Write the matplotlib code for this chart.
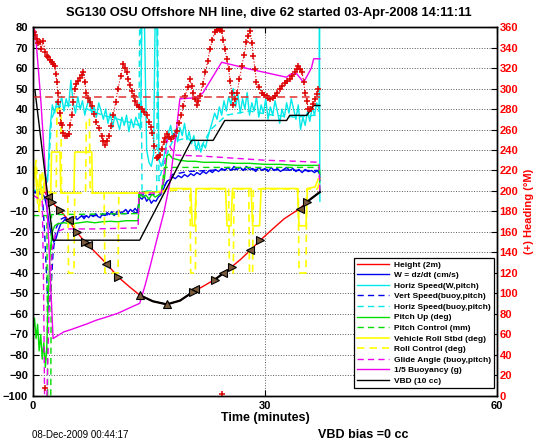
#!/usr/bin/env python3

import numpy as np
import matplotlib.pyplot as plt

plt.rcParams['font.family'] = ['Liberation Sans', 'DejaVu Sans']
plt.rcParams['font.weight'] = 'bold'

# ---- data (time in minutes) ----
# Height (2m), red line
t_height = [0.3, 1.5, 1.98, 2.4, 3.5, 4.6, 5.65, 6.7, 7.15, 9.5, 11.0, 12.5, 13.8, 15.5, 17.3,
            19.0, 20.7, 22.0, 23.5, 24.6, 25.7, 26.9, 28.1, 29.4, 31.0, 32.5, 34.5, 35.4, 36.3, 37.1]
height = [0, -0.5, -2.9, -5.4, -9.4, -14.3, -20, -24.8, -26.4, -35.4, -41.9, -46.8, -50.8, -53.8, -55.3,
          -53.5, -49.2, -46.5, -43.2, -40.2, -37, -33.2, -28.9, -24, -18.5, -13.5, -8.6, -5.4, -2.8, -0.5]
# black overlay pieces on the height trace
t_blk1 = [13.8, 15.5, 17.3, 19.0, 20.7, 21.2]
blk1 = [-50.8, -53.8, -55.3, -53.5, -49.2, -47.5]
t_blk2 = [23.3, 24.6, 25.1]
blk2 = [-43.8, -40.2, -39]
t_blk3 = [35.4, 36.3, 37.1]
blk3 = [-5.4, -2.8, -0.5]
# triangle markers on the height trace
t_tri_l = [1.98, 4.6, 7.15, 9.5, 21.0, 24.6, 28.1, 34.5]
tri_l = [-2.9, -14.3, -26.4, -35.4, -48, -40.2, -28.9, -8.6]
t_tri_r = [2.4, 3.5, 5.65, 6.7, 11.0, 20.7, 23.5, 25.7, 29.4, 35.4]
tri_r = [-5.4, -9.4, -20, -24.8, -41.9, -49.2, -43.2, -37, -24, -5.4]
t_tri_u = [13.8, 17.3]
tri_u = [-50.8, -55.3]

# W = dz/dt (cm/s)
t_w = [0, 0.3, 0.6, 0.9, 1.2, 1.5, 1.8, 2.1, 2.4, 2.7,
       3.0, 3.3, 3.6, 3.9, 4.2, 4.5, 4.8, 5.1, 5.4, 5.7,
       6.0, 6.3, 6.6, 6.9, 7.2, 7.5, 7.8, 8.1, 8.4, 8.7,
       9.0, 9.3, 9.6, 9.9, 10.2, 10.5, 10.8, 11.1, 11.4, 11.7,
       12.0, 12.3, 12.6, 12.9, 13.2, 13.5, 13.8, 14.1, 14.4, 14.7,
       15.0, 15.3, 15.6, 15.9, 16.2, 16.5, 16.8, 17.1, 17.4, 17.7,
       18.0, 18.4, 18.8, 19.2, 19.6, 20.0, 20.4, 20.8, 21.2, 21.6,
       22.0, 22.4, 22.8, 23.2, 23.6, 24.0, 24.4, 24.8, 25.2, 25.6,
       26.0, 26.4, 26.8, 27.2, 27.6, 28.0, 28.4, 28.8, 29.2, 29.6,
       30.0, 30.4, 30.8, 31.2, 31.6, 32.0, 32.4, 32.8, 33.2, 33.6,
       34.0, 34.4, 34.8, 35.2, 35.6, 36.0, 36.4, 36.8, 37.1]
w_speed = [0, -1, 0.5, -1.5, -1, -3, -8, -16, -22, -25,
           -23, -19, -16, -15, -13.5, -15, -13, -14.5, -12.5, -14,
           -13, -12, -13.5, -12, -13, -11.5, -12.5, -11, -12.5, -13,
           -11, -12, -10.5, -11.5, -10, -12, -10.5, -9.5, -11, -10,
           -9, -10.5, -9, -10, -8.5, -10, -3, -4, -2.5, -5,
           -3.5, -6, -4.5, -5, -3, -2, 0, 3, 5, 5.5,
           7, 6, 7.5, 6.5, 8, 7, 8.5, 7.5, 9, 8,
           9.5, 8.5, 10, 9, 10.5, 9.5, 11, 10, 11.5, 10,
           12, 10.5, 11.5, 10, 12, 10.5, 11, 9.5, 11.5, 10,
           11, 9.5, 11.5, 10, 11, 9.5, 10.5, 11.5, 10, 11,
           9.5, 10.5, 9, 10.5, 9.5, 10, 9, 10, 8]

# Horiz Speed(W,pitch)
t_hspd = [0, 1.0, 1.6, 1.9, 2.2, 2.5, 2.8, 3.1, 3.4, 3.7,
          4.0, 4.3, 4.6, 4.9, 5.2, 5.5, 5.8, 6.1, 6.4, 6.7,
          7.0, 7.3, 7.6, 7.9, 8.2, 8.5, 8.8, 9.1, 9.4, 9.7,
          10.0, 10.3, 10.6, 10.9, 11.2, 11.5, 11.8, 12.1, 12.4, 12.7,
          13.0, 13.3, 13.6, 13.9, 14.1, 14.4, 14.7, 15.0, 15.3, 15.6,
          15.8, 16.0, 16.3, 16.6, 16.9, 17.2, 17.5, 17.8, 18.1, 18.4,
          18.7, 19.0, 19.3, 19.6, 19.9, 20.2, 20.5, 20.8, 21.1, 21.4,
          21.7, 22.0, 22.3, 22.6, 22.9, 23.2, 23.5, 23.8, 24.1, 24.4,
          24.7, 25.0, 25.3, 25.6, 25.9, 26.2, 26.5, 26.8, 27.1, 27.4,
          27.7, 28.0, 28.3, 28.6, 28.9, 29.2, 29.5, 29.8, 30.1, 30.4,
          30.7, 31.0, 31.3, 31.6, 31.9, 32.2, 32.5, 32.8, 33.1, 33.4,
          33.7, 34.0, 34.3, 34.6, 34.9, 35.2, 35.5, 35.8, 36.1, 36.4,
          36.7, 37.0, 37.05, 37.1]
hspd = [0, 1, 3, 5, 30, 42, 38, 44, 40, 46,
        39, 45, 41, 54, 43, 38, 46, 40, 44, 37,
        42, 45, 38, 41, 36, 43, 39, 35, 40, 33,
        38, 31, 37, 34, 30, 36, 32, 37, 29, 35,
        31, 36, 33, 30, 85, 85, 20, 14, 12, 18,
        85, 85, 15, 12, 16, 22, 28, 32, 26, 30,
        24, 31, 27, 33, 25, 29, 23, 27, 20, 24,
        19, 23, 21, 26, 30, 34, 38, 35, 41, 37,
        44, 39, 46, 42, 50, 41, 47, 38, 45, 40,
        48, 37, 43, 39, 46, 36, 42, 38, 45, 35,
        41, 37, 44, 39, 33, 40, 36, 43, 38, 45,
        40, 35, 42, 30, 36, 32, 39, 34, 41, 37,
        43, 40, 85, -5]

# Vert Speed(buoy,pitch)
t_vspd_b = [0, 1.2, 1.5, 1.8, 2.0, 2.3, 2.6, 3.0, 3.5, 4, 6, 8, 10, 12, 13.6, 13.8,
            16.5, 17.2, 18, 20, 25, 30, 35, 37, 37.1]
vspd_b = [0, -1, -20, -45, -58, -50, -30, -18, -14, -13, -12.5, -12, -11.5, -11, -10.5, -2,
          -1.5, 4, 8, 9.5, 10.5, 10.5, 10, 10, 5]

# Horiz Speed(buoy,pitch)
t_hspd_b = [0, 1.5, 2.0, 2.4, 3, 5, 7, 9, 11, 13, 13.7, 13.8, 13.95, 14.1, 16.0, 16.1, 16.3,
            17, 18, 20, 21.5, 23, 25, 28, 31, 34, 36.5, 37.1]
hspd_b = [0, 1, 10, 35, 41, 42, 40, 37, 35, 33, 32, 85, 85, 0, 0, 85, 5,
          15, 24, 26, 20, 30, 37, 39, 37, 36, 37, 40]

# Pitch Up (deg)
t_pitch = [0, 0.2, 0.4, 0.6, 0.8, 1.0, 1.2, 1.4, 1.6, 1.8,
           2.0, 2.2, 2.5, 2.8, 3.2, 4, 5, 6, 7, 8,
           9, 10, 11, 12, 13, 13.6, 13.8, 14.2, 14.6, 15.0,
           15.4, 15.8, 16.2, 16.6, 17.0, 17.3, 17.6, 18.0, 18.5, 19,
           20, 21, 22, 24, 26, 28, 30, 32, 34, 36,
           37, 37.1]
pitch = [-68, -62, -72, -65, -78, -70, -82, -74, -86, -75,
         -50, -30, -20, -17, -16, -15.5, -16, -15.5, -15, -15.5,
         -15, -14.8, -15, -14.5, -14.5, -14.5, -1, -3, -2, -4,
         -1.5, -3, -2, -1, 6, 17, 18, 16, 15.5, 15,
         14.5, 14.5, 14, 14, 13.5, 13.5, 13, 13, 12.5, 12.5,
         12.5, 8]

# Pitch Control (mm)
t_pitch_ctl = [0, 1.8, 1.9, 2.3, 2.4, 3, 13.6, 13.7, 16.6, 17.0, 37.0, 37.1]
pitch_ctl = [-12, -12, -100, -100, -11.5, -11.5, -11, -0.5, -0.5, 11.5, 11.5, 0]

# Vehicle Roll Stbd (deg)
t_roll = [0, 0.3, 0.6, 0.9, 1.2, 1.5, 1.8, 2.3, 2.4, 3.5,
          3.6, 5.3, 5.4, 7.6, 7.7, 13.8, 16.8, 17.3, 20.4, 20.6,
          20.9, 21.1, 24.9, 25.1, 25.6, 25.8, 28.2, 28.4, 29.3, 29.5,
          34.2, 34.4, 35.3, 35.5, 36.5, 36.9, 37.1]
roll = [3, 12, -6, 8, -4, 6, 0, -1, 19, 19,
        -1, -1, 19, 19, -1, -1, -0.5, 1.2, 1.2, -17,
        -17, 1.2, 1.2, -17, -17, 1.2, 1.2, -17, -17, 1.2,
        1.2, -17, -17, 1.2, 2, 6, 6]

# Roll Control (deg)
t_roll_ctl = [0, 0.4, 0.8, 1.2, 1.6, 3.0, 3.1, 3.6, 3.7, 4.5,
              4.6, 5.3, 5.4, 6.8, 6.9, 7.3, 7.4, 9.2, 9.3, 11.0,
              11.1, 13.8, 20.3, 20.4, 21.0, 21.1, 25.3, 25.4, 25.9, 26.0,
              27.9, 28.0, 28.4, 28.5, 34.3, 34.4, 35.3, 35.4, 36.8, 37.1]
roll_ctl = [0, 15, -10, 10, -1, -1, 40, 40, -1, -1,
            -40, -40, -1, -1, 35, 35, -1, -1, -40, -40,
            -1, -1, 1, -40, -40, 1, 1, -40, -40, 1,
            1, -40, -40, 1, 1, -40, -40, 1, 1, 5]

# Glide Angle (buoy,pitch)
t_glide = [0, 1.2, 1.35, 1.5, 1.8, 2.1, 2.5, 3.0, 4, 8, 13.6, 13.7, 16.6, 17.0, 17.3,
           17.8, 18.5, 22, 26, 30, 34, 37, 37.1]
glide = [-2, -5, -40, -100, -100, -55, -28, -20, -18.5, -18.5, -18, -1, -1, 10, 25,
         21, 17.5, 17, 16, 15, 14.5, 14, 0]

# 1/5 Buoyancy (g)
t_buoy = [0, 0.3, 1.0, 1.6, 2.1, 2.6, 3.0, 4.0, 5.0, 6.1, 7.0, 8.2, 9.5, 11.0, 12.5,
          13.8, 14.5, 15.2, 16.0, 16.9, 17.7, 18.4, 19.0, 21.2, 22.0, 24.4, 28.0, 32.8,
          33.3, 34.1, 35.0, 36.0, 36.3, 37.1]
buoy = [80, 78, 45, 10, -30, -72, -71, -68.7, -67.5, -66, -64.8, -63, -61.5, -59.6, -57,
        -54.8, -46, -36, -24, -11, 4, 25, 45, 45.5, 48, 62.8, 59.5, 55.5,
        57, 57.2, 53, 60, 64.5, 64.5]

# VBD (10 cc)
t_vbd = [0.26, 2.6, 13.8, 20.5, 23.3, 24.8, 32.8, 33.2, 35.4, 36.3, 37.1]
vbd = [49, -24, -24, 24.7, 24.7, 34.4, 34.4, 36.9, 36.9, 41.7, 41.7]

# (+) Heading (deg M), right axis
t_hdg = [0.1, 0.26, 0.5, 0.7, 0.9, 1.1, 1.3, 1.6, 1.8, 2.0,
         2.2, 2.4, 2.6, 2.8, 2.95, 3.1, 3.2, 3.3, 3.45, 3.6,
         3.7, 3.9, 4.1, 4.35, 4.6, 4.8, 5.0, 5.2, 5.4, 5.6,
         5.85, 6.1, 6.3, 6.5, 6.7, 6.9, 7.1, 7.35, 7.6, 7.9,
         8.2, 8.5, 8.9, 9.1, 9.3, 9.55, 9.8, 10.1, 10.4, 10.7,
         11.0, 11.35, 11.7, 11.9, 12.1, 12.3, 12.5, 12.75, 13.0, 13.2,
         13.4, 13.75, 14.1, 14.4, 14.7, 15.0, 15.2, 15.4, 15.7, 16.0,
         16.2, 16.4, 16.65, 16.9, 17.1, 17.3, 17.6, 17.9, 18.25, 18.6,
         18.9, 19.2, 19.45, 19.7, 20.0, 20.3, 20.5, 20.7, 20.95, 21.2,
         21.4, 21.6, 21.95, 22.3, 22.6, 22.9, 23.2, 23.5, 23.75, 24.0,
         24.2, 24.4, 24.6, 24.8, 25.05, 25.3, 25.5, 25.7, 25.9, 26.15,
         26.4, 26.7, 27.0, 27.3, 27.6, 27.85, 28.1, 28.3, 28.5, 28.7,
         28.9, 29.25, 29.6, 29.9, 30.2, 30.45, 30.7, 31.0, 31.3, 31.6,
         31.9, 32.25, 32.6, 32.9, 33.2, 33.55, 33.9, 34.1, 34.3, 34.55,
         34.8, 35.0, 35.2, 35.4, 35.6, 35.8, 36.0, 36.25, 36.5, 36.7,
         36.9]
hdg = [355, 352, 348, 344, 345, 339, 346, 336, 332, 331,
       328, 326, 324, 322, 314, 306, 296, 287, 276, 266,
       264, 257, 254, 254, 256, 264, 274, 287, 300, 304,
       307, 310, 313, 316, 306, 296, 291, 287, 283, 275,
       267, 261, 254, 249, 245, 249, 254, 263, 274, 287,
       300, 312, 324, 320, 316, 309, 303, 298, 293, 288,
       284, 282, 280, 277, 274, 267, 262, 257, 244, 232,
       233, 235, 241, 248, 252, 256, 253, 251, 254, 259,
       266, 274, 283, 293, 301, 309, 302, 296, 290, 284,
       288, 293, 304, 316, 327, 339, 347, 355, 357, 358,
       357, 356, 347, 339, 329, 319, 307, 296, 284, 290,
       296, 309, 322, 333, 345, 351, 356, 344, 332, 319,
       306, 301, 296, 294, 293, 291, 290, 291, 293, 296,
       300, 302, 305, 307, 309, 312, 316, 319, 322, 319,
       316, 306, 296, 288, 280, 280, 280, 285, 290, 295,
       300]
t_hdg_wrap = [1.6, 24.4]
hdg_wrap = [8, 2]
hdg_target = 292

legend_labels = ["Height (2m)", "W = dz/dt (cm/s)", "Horiz Speed(W,pitch)",
                 "Vert Speed(buoy,pitch)", "Horiz Speed(buoy,pitch)", "Pitch Up (deg)",
                 "Pitch Control (mm)", "Vehicle Roll Stbd (deg)", "Roll Control (deg)",
                 "Glide Angle (buoy,pitch)", "1/5 Buoyancy (g)", "VBD (10 cc)"]

# ---- figure ----
fig = plt.figure(figsize=(5.46, 4.42), dpi=100)
ax = fig.add_axes([0.0604, 0.1041, 0.8498, 0.8348])
ax2 = ax.twinx()

RED = "#ff0000"
BLUE = "#0000ee"
CYAN = "#00e8e8"
GREEN = "#00dd00"
YELLOW = "#ffff00"
MAGENTA = "#ee00ee"

DASH = (4.5, 3)
lw = 1.0
h = []
h += ax.plot(t_height, height, "-", color=RED, lw=lw)
h += ax.plot(t_w, w_speed, "-", color=BLUE, lw=lw)
h += ax.plot(t_hspd, hspd, "-", color=CYAN, lw=lw)
h += ax.plot(t_vspd_b, vspd_b, "--", color=BLUE, lw=lw, dashes=DASH)
h += ax.plot(t_hspd_b, hspd_b, "--", color=CYAN, lw=lw, dashes=DASH)
h += ax.plot(t_pitch, pitch, "-", color=GREEN, lw=lw)
h += ax.plot(t_pitch_ctl, pitch_ctl, "--", color=GREEN, lw=lw, dashes=DASH)
h += ax.plot(t_roll, roll, "-", color=YELLOW, lw=1.2)
h += ax.plot(t_roll_ctl, roll_ctl, "--", color=YELLOW, lw=1.2, dashes=DASH)
h += ax.plot(t_glide, glide, "--", color=MAGENTA, lw=lw, dashes=DASH)
h += ax.plot(t_buoy, buoy, "-", color=MAGENTA, lw=lw)
h += ax.plot(t_vbd, vbd, "-", color="k", lw=lw)

for tt, vv in [(t_blk1, blk1), (t_blk2, blk2), (t_blk3, blk3)]:
    ax.plot(tt, vv, "-", color="k", lw=1.6)
tri_style = dict(ls="none", ms=5.5, mfc="#7a5a3c", mec="k", mew=0.8)
ax.plot(t_tri_l, tri_l, marker="<", **tri_style)
ax.plot(t_tri_r, tri_r, marker=">", **tri_style)
ax.plot(t_tri_u, tri_u, marker="^", **tri_style)

ax.set_xlim(0, 60)
ax.set_ylim(-100, 80)
ax.set_xticks([0, 30, 60])
ax.set_yticks(np.arange(-100, 81, 10))
ax.grid(True, linestyle=":", color="0.35", lw=0.7)
ax.set_axisbelow(True)
ax.tick_params(axis="both", direction="in", length=4, labelsize=8, top=True, right=False)
ax.set_xlabel("Time (minutes)", fontsize=9, weight="bold", labelpad=1)

# heading on the right axis
ax2.plot(t_hdg, hdg, ":", color="#dd0000", lw=0.8)
ax2.plot(t_hdg, hdg, "+", color="#dd0000", ms=4, mew=1.1)
ax2.plot(t_hdg_wrap, hdg_wrap, "+", color="#dd0000", ms=4, mew=1.1)
ax2.hlines(hdg_target, 0, t_w[-1], colors="#e03030", linestyles=(0, (5, 3)), lw=1.1)
ax2.set_ylim(0, 360)
ax2.set_yticks(np.arange(0, 361, 20))
ax2.tick_params(axis="y", direction="in", length=4, labelsize=8, colors="k", labelcolor="r", pad=2)
ax2.set_ylabel("(+) Heading (\u00b0M)", color="r", fontsize=8, weight="bold", labelpad=4)

for a in (ax, ax2):
    for s in a.spines.values():
        s.set_linewidth(1.0)

leg = ax2.legend(h, legend_labels, loc="lower right", bbox_to_anchor=(0.993, 0.022),
                 fontsize=6, frameon=True, fancybox=False, edgecolor="k", framealpha=1,
                 handlelength=3.8, borderpad=0.35, labelspacing=0.33, handletextpad=0.6,
                 borderaxespad=0)
leg.get_frame().set_linewidth(0.9)

fig.text(269 / 546, 1 - 13 / 442, "SG130 OSU Offshore NH line, dive 62 started 03-Apr-2008 14:11:11",
         ha="center", va="center", fontsize=9.3, weight="bold")
fig.text(32 / 546, 1 - 435 / 442, "08-Dec-2009 00:44:17", ha="left", va="center",
         fontsize=7, weight="normal")
fig.text(318 / 546, 1 - 435 / 442, "VBD bias =0 cc", ha="left", va="center",
         fontsize=9, weight="bold")

fig.savefig("out.png", dpi=100)
